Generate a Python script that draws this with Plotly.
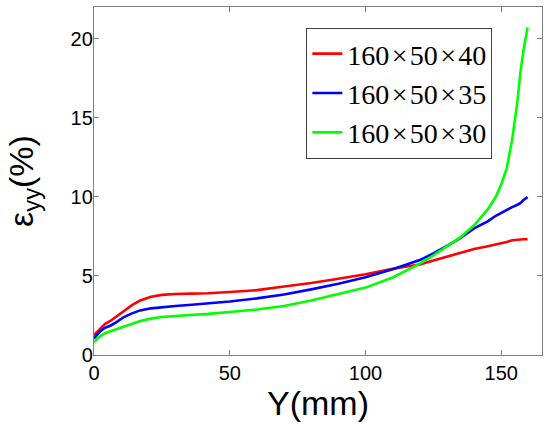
"""
Deformação ε_yy ao longo de Y para três tamanhos de amostra.
"""

import plotly.graph_objects as go

# =============================================================================
# Dados
# =============================================================================

y_mm = [0, 2, 4, 6, 8, 11, 14, 17, 21, 25, 30, 36, 42, 50, 60, 70, 80, 90,
        100, 110, 120, 125, 130, 135, 140, 145, 148, 150, 152, 154, 156, 157,
        158.2, 159.7]

eps_40 = [1.25, 1.6, 1.95, 2.15, 2.4, 2.8, 3.15, 3.45, 3.68, 3.8, 3.86, 3.88,
          3.9, 3.98, 4.1, 4.33, 4.55, 4.82, 5.1, 5.45, 5.72, 5.98, 6.22, 6.47,
          6.7, 6.88, 6.98, 7.05, 7.15, 7.25, 7.3, 7.3, 7.32, 7.32]

eps_35 = [1.05, 1.45, 1.72, 1.85, 2.05, 2.4, 2.63, 2.82, 2.95, 3.03, 3.1, 3.18,
          3.25, 3.38, 3.58, 3.83, 4.15, 4.5, 4.92, 5.42, 6.0, 6.42, 6.9, 7.4,
          8.0, 8.45, 8.8, 9.0, 9.15, 9.35, 9.5, 9.6, 9.8, 9.98]

eps_30 = [0.82, 1.15, 1.38, 1.5, 1.62, 1.8, 1.98, 2.15, 2.3, 2.4, 2.47, 2.53,
          2.6, 2.72, 2.88, 3.1, 3.45, 3.85, 4.26, 4.9, 5.78, 6.3, 6.85, 7.45,
          8.2, 9.2, 10.0, 10.8, 11.8, 13.6, 16.1, 17.8, 19.3, 20.7]

nomes = ["160\u200a×\u200a50\u200a×\u200a40",
         "160\u200a×\u200a50\u200a×\u200a35",
         "160\u200a×\u200a50\u200a×\u200a30"]
cores = ["#ff0000", "#0000ff", "#00ff00"]

# =============================================================================
# Gráfico
# =============================================================================

fig = go.Figure()

for nome, cor, serie in zip(nomes, cores, [eps_40, eps_35, eps_30]):
    fig.add_trace(go.Scatter(
        x=y_mm,
        y=serie,
        mode="lines",
        name=nome,
        line=dict(color=cor, width=2.6)
    ))

eixo = dict(
    showline=True,
    linecolor="#7f7f7f",
    linewidth=1.3,
    mirror="ticks",
    ticks="inside",
    ticklen=5,
    tickcolor="#7f7f7f",
    showgrid=False,
    zeroline=False,
    tickfont=dict(family="Liberation Sans", size=20, color="black"),
)

fig.update_xaxes(
    range=[0, 165],
    tickvals=[0, 50, 100, 150],
    title=dict(text="Y(mm)", font=dict(family="Liberation Sans", size=34, color="black"), standoff=2),
    **eixo
)
fig.update_yaxes(
    range=[0, 22],
    tickvals=[0, 5, 10, 15, 20],
    ticklabelstandoff=-4,
    title=dict(text="ε<sub>yy</sub>(%)", font=dict(family="Liberation Sans", size=34, color="black"), standoff=26),
    **eixo
)

fig.update_layout(
    width=550,
    height=430,
    margin=dict(l=94, r=8, t=7, b=75),
    plot_bgcolor="white",
    paper_bgcolor="white",
    legend=dict(
        x=0.474, y=0.94,
        xanchor="left", yanchor="top",
        font=dict(family="Liberation Serif", size=28, color="black"),
        bgcolor="white",
        bordercolor="#404040",
        borderwidth=1,
        tracegroupgap=0,
        itemwidth=30,
    ),
)

# tira a margem padrão da página para a figura ficar no canto (0, 0)
fig.write_html(
    "out.html",
    config={"displayModeBar": False},
    post_script="document.body.style.margin='0';",
)
